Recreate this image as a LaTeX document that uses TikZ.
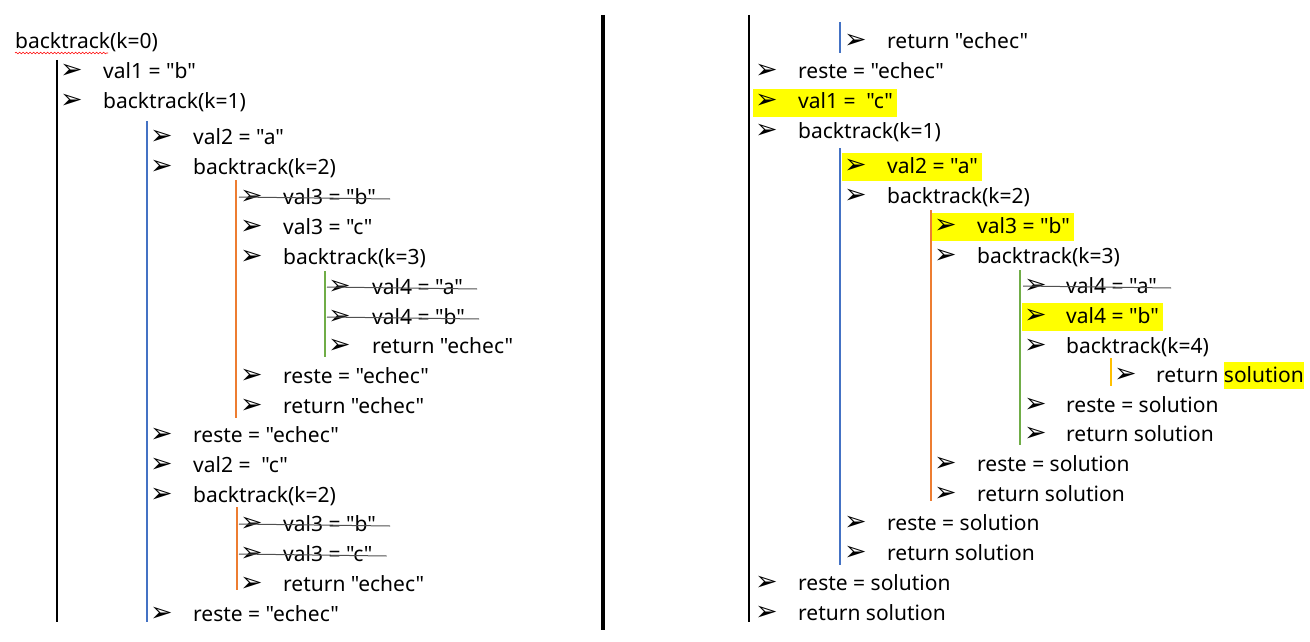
\documentclass[tikz,border=0pt]{standalone}
\usepackage{fontspec}
\setmainfont{Noto Sans}[Ligatures=TeXOff]
\newfontfamily\bulfont{DejaVu Sans}
\usetikzlibrary{calc,backgrounds,decorations.pathmorphing}
\definecolor{lblue}{HTML}{4472C4}
\definecolor{lorange}{HTML}{ED7D31}
\definecolor{lgreen}{HTML}{70AD47}
\definecolor{lgold}{HTML}{FFC000}
\definecolor{hlyellow}{HTML}{FFFF00}
\definecolor{strikegray}{HTML}{505050}
\newcommand\hlword[1]{{\setlength\fboxsep{0pt}\colorbox{hlyellow}{\rule[-7pt]{0pt}{27pt}#1}}}
\begin{document}
\begin{tikzpicture}[x=1pt,y=-1pt,
  txt/.style={anchor=base west,yshift=-2pt,inner xsep=0pt,inner ysep=3.5pt,text height=16pt,text depth=4pt,font=\fontsize{21}{25}\selectfont},
  bul/.style={anchor=base west,yshift=-2pt,inner sep=0pt,font=\bulfont\fontsize{27}{30}\selectfont},
  hl/.style={fill=hlyellow},
  strk/.style={draw=strikegray,line width=1pt},
  lvlblack/.style={draw=black,line width=1.3pt},
  lvlblue/.style={draw=lblue,line width=1.4pt},
  lvlorange/.style={draw=lorange,line width=1.4pt},
  lvlgreen/.style={draw=lgreen,line width=1.4pt},
  lvlgold/.style={draw=lgold,line width=1.4pt},
  divider/.style={draw=black,line width=4pt}]
\useasboundingbox (0,0) rectangle (1310,642);
% ---------------- left column ----------------
\node[txt] (a0t) at (15,47) {backtrack(k=0)};
\node[bul] (a1b) at (60,77) {➢};   \node[txt] (a1t) at (103,77) {val1 = "b"};
\node[bul] (a2b) at (60,107) {➢};  \node[txt] (a2t) at (103,107) {backtrack(k=1)};
\node[bul] (a3b) at (150,142) {➢}; \node[txt] (a3t) at (193,142) {val2 = "a"};
\node[bul] (a4b) at (150,172) {➢}; \node[txt] (a4t) at (193,172) {backtrack(k=2)};
\node[bul] (a5b) at (240,202) {➢}; \node[txt] (a5t) at (283,202) {val3 = "b"};
\node[bul] (a6b) at (240,232) {➢}; \node[txt] (a6t) at (283,232) {val3 = "c"};
\node[bul] (a7b) at (240,262) {➢}; \node[txt] (a7t) at (283,262) {backtrack(k=3)};
\node[bul] (a8b) at (328,292) {➢}; \node[txt] (a8t) at (372,292) {val4 = "a"};
\node[bul] (a9b) at (328,322) {➢}; \node[txt] (a9t) at (372,322) {val4 = "b"};
\node[bul] (a10b) at (328,351) {➢}; \node[txt] (a10t) at (372,351) {return "echec"};
\node[bul] (a11b) at (240,381) {➢}; \node[txt] (a11t) at (283,381) {reste = "echec"};
\node[bul] (a12b) at (240,411) {➢}; \node[txt] (a12t) at (283,411) {return "echec"};
\node[bul] (a13b) at (150,440) {➢}; \node[txt] (a13t) at (193,440) {reste = "echec"};
\node[bul] (a14b) at (150,470) {➢}; \node[txt] (a14t) at (193,470) {val2 = ~"c"};
\node[bul] (a15b) at (150,500) {➢}; \node[txt] (a15t) at (193,500) {backtrack(k=2)};
\node[bul] (a16b) at (240,529) {➢}; \node[txt] (a16t) at (283,529) {val3 = "b"};
\node[bul] (a17b) at (240,559) {➢}; \node[txt] (a17t) at (283,559) {val3 = "c"};
\node[bul] (a18b) at (240,589) {➢}; \node[txt] (a18t) at (283,589) {return "echec"};
\node[bul] (a19b) at (150,619) {➢}; \node[txt] (a19t) at (193,619) {reste = "echec"};
% spelling squiggle
\coordinate (sqA) at ($(a0t.base west)+(0,4)$);
\coordinate (sqB) at ($(a0t.base west)+(93,4)$);
\draw[red,line width=0.6pt,decorate,decoration={snake,amplitude=0.8pt,segment length=3.5pt}] (sqA) -- (sqB);
% strikes
\draw[strk] ($(a5b.base west)+(-1,-7)$) -- ($(a5t.base east)+(14,-5)$);
\draw[strk] ($(a8b.base west)+(-1,-7)$) -- ($(a8t.base east)+(14,-5)$);
\draw[strk] ($(a9b.base west)+(-1,-7)$) -- ($(a9t.base east)+(14,-5)$);
\draw[strk] ($(a16b.base west)+(-1,-7)$) -- ($(a16t.base east)+(14,-5)$);
\draw[strk] ($(a17b.base west)+(-1,-7)$) -- ($(a17t.base east)+(14,-5)$);
% level lines
\coordinate (aL1t) at (57,60);   \coordinate (aL1b) at (57,622);
\coordinate (aL2t) at (147,121); \coordinate (aL2b) at (147,622);
\coordinate (aL3t) at (236,180); \coordinate (aL3b) at (236,418);
\coordinate (aL4t) at (325,271); \coordinate (aL4b) at (325,357);
\coordinate (aL5t) at (237,507); \coordinate (aL5b) at (237,590);
\draw[lvlblack] (aL1t) -- (aL1b);
\draw[lvlblue] (aL2t) -- (aL2b);
\draw[lvlorange] (aL3t) -- (aL3b);
\draw[lvlgreen] (aL4t) -- (aL4b);
\draw[lvlorange] (aL5t) -- (aL5b);
% divider
\coordinate (dvT) at (603,15); \coordinate (dvB) at (603,630);
\draw[divider] (dvT) -- (dvB);
% ---------------- right column ----------------
\node[bul] (b1b) at (844,47) {➢};   \node[txt] (b1t) at (887,47) {return "echec"};
\node[bul] (b2b) at (755,77) {➢};   \node[txt] (b2t) at (798,77) {reste = "echec"};
\node[bul] (b3b) at (755,107) {➢};  \node[txt] (b3t) at (798,107) {val1 = ~"c"};
\node[bul] (b4b) at (755,137) {➢};  \node[txt] (b4t) at (798,137) {backtrack(k=1)};
\node[bul] (b5b) at (844,171) {➢};  \node[txt] (b5t) at (887,171) {val2 = "a"};
\node[bul] (b6b) at (844,201) {➢};  \node[txt] (b6t) at (887,201) {backtrack(k=2)};
\node[bul] (b7b) at (934,231) {➢};  \node[txt] (b7t) at (977,231) {val3 = "b"};
\node[bul] (b8b) at (934,261) {➢};  \node[txt] (b8t) at (977,261) {backtrack(k=3)};
\node[bul] (b9b) at (1024,291) {➢}; \node[txt] (b9t) at (1066,291) {val4 = "a"};
\node[bul] (b10b) at (1024,321) {➢}; \node[txt] (b10t) at (1066,321) {val4 = "b"};
\node[bul] (b11b) at (1024,351) {➢}; \node[txt] (b11t) at (1066,351) {backtrack(k=4)};
\node[bul] (b12b) at (1114,380) {➢}; \node[txt] (b12t) at (1156,380) {return \hlword{solution}};
\node[bul] (b13b) at (1024,410) {➢}; \node[txt] (b13t) at (1066,410) {reste = solution};
\node[bul] (b14b) at (1024,439) {➢}; \node[txt] (b14t) at (1066,439) {return solution};
\node[bul] (b15b) at (934,469) {➢};  \node[txt] (b15t) at (977,469) {reste = solution};
\node[bul] (b16b) at (934,499) {➢};  \node[txt] (b16t) at (977,499) {return solution};
\node[bul] (b17b) at (844,528) {➢};  \node[txt] (b17t) at (887,528) {reste = solution};
\node[bul] (b18b) at (844,558) {➢};  \node[txt] (b18t) at (887,558) {return solution};
\node[bul] (b19b) at (755,588) {➢};  \node[txt] (b19t) at (798,588) {reste = solution};
\node[bul] (b20b) at (755,618) {➢};  \node[txt] (b20t) at (798,618) {return solution};
% highlights
\begin{scope}[on background layer]
\fill[hl] ($(b3b.west |- b3t.south)+(-2,0)$) rectangle ($(b3t.north east)+(4,0)$);
\fill[hl] ($(b5b.west |- b5t.south)+(-2,0)$) rectangle ($(b5t.north east)+(4,0)$);
\fill[hl] ($(b7b.west |- b7t.south)+(-2,0)$) rectangle ($(b7t.north east)+(4,0)$);
\fill[hl] ($(b10b.west |- b10t.south)+(-2,0)$) rectangle ($(b10t.north east)+(4,0)$);
\end{scope}
% strike
\draw[strk] ($(b9b.base west)+(-1,-7)$) -- ($(b9t.base east)+(14,-5)$);
% level lines
\coordinate (bL1t) at (749,15);   \coordinate (bL1b) at (749,622);
\coordinate (bL2at) at (840,22);  \coordinate (bL2ab) at (840,53);
\coordinate (bL2t) at (840,148);  \coordinate (bL2b) at (840,565);
\coordinate (bL3t) at (931,210);  \coordinate (bL3b) at (931,501);
\coordinate (bL4t) at (1020,270); \coordinate (bL4b) at (1020,445);
\coordinate (bL5t) at (1111,358); \coordinate (bL5b) at (1111,386);
\draw[lvlblack] (bL1t) -- (bL1b);
\draw[lvlblue] (bL2at) -- (bL2ab);
\draw[lvlblue] (bL2t) -- (bL2b);
\draw[lvlorange] (bL3t) -- (bL3b);
\draw[lvlgreen] (bL4t) -- (bL4b);
\draw[lvlgold] (bL5t) -- (bL5b);
\end{tikzpicture}
\end{document}
